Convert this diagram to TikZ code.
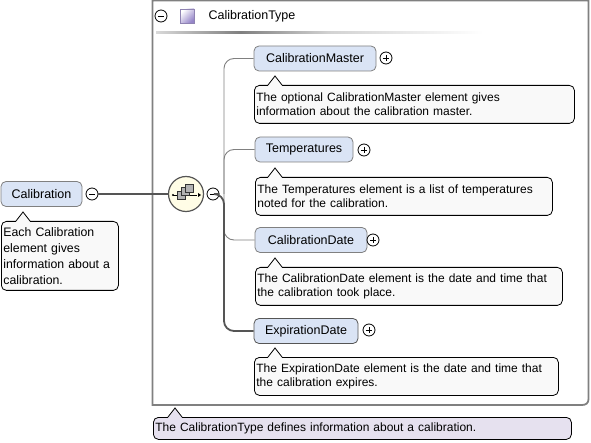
\documentclass[tikz,border=0pt]{standalone}
\usepackage{fontspec}
\setmainfont{Liberation Sans}
\usetikzlibrary{calc}
\definecolor{elemblue}{HTML}{DAE4F5}
\definecolor{tipfill}{HTML}{F9F9F9}
\definecolor{lavender}{HTML}{E6E1EF}
\definecolor{framegray}{HTML}{808080}
\definecolor{darkline}{HTML}{555555}
\definecolor{seqfill}{HTML}{FFFDE6}
\definecolor{purplesq}{HTML}{9585C8}
\newcommand\tipnotch[3]{% node, x offset, fill color
  \fill[#3] ($(#1.north west)+(#2-7,0.8)$) -- ($(#1.north west)+(#2,-9)$) -- ($(#1.north west)+(#2+7,0.8)$) -- cycle;
  \draw[black,line width=0.8pt] ($(#1.north west)+(#2-7,0)$) -- ($(#1.north west)+(#2,-9)$) -- ($(#1.north west)+(#2+7,0)$);}
\newcommand\minussign[1]{\draw[line width=0.8pt] ($(#1.center)+(-3.2,0)$) -- ($(#1.center)+(3.2,0)$);}
\newcommand\plussign[1]{\draw[line width=0.8pt] ($(#1.center)+(-3.2,0)$) -- ($(#1.center)+(3.2,0)$) ($(#1.center)+(0,-3.2)$) -- ($(#1.center)+(0,3.2)$);}
\begin{document}
\begin{tikzpicture}[x=1pt,y=-1pt,
  elem/.style={draw=framegray, line width=0.8pt, fill=elemblue, rounded corners=5pt, minimum height=25pt, inner sep=0pt, font=\fontsize{12.5}{14}\selectfont},
  reqelem/.style={elem, draw=darkline},
  tip/.style={draw=black, line width=0.8pt, fill=tipfill, rounded corners=5pt, align=left, anchor=north west, inner xsep=2pt, inner ysep=2pt, minimum height=38pt, font=\fontsize{12}{14}\selectfont},
  btn/.style={circle, draw=black, line width=0.8pt, fill=white, minimum size=12pt, inner sep=0pt},
  thin/.style={draw=framegray, line width=0.9pt, rounded corners=10pt},
  thick/.style={draw=darkline, line width=1.8pt, rounded corners=10pt}]
\useasboundingbox (0,0) rectangle (591,443);
% frame
\draw[framegray, line width=1.8pt] (152.5,0.5) -- (152.5,405) -- (582,405) .. controls (586,405) and (588.5,403) .. (588.5,399) -- (588.5,0.5) -- cycle;
% header
\node[btn] (hdrbtn) at (161,16) {}; \minussign{hdrbtn}
\shade[left color=white, right color=purplesq, shading angle=45] (180,9) rectangle (194,23);
\draw[purplesq!70!gray, line width=0.6pt] (180,9) rectangle (194,23);
\node[anchor=west, font=\fontsize{12.5}{14}\selectfont] (ctype) at (205,16) {CalibrationType};
\shade[left color=gray!30, right color=gray] (156,31.5) rectangle (240,33.5);
\shade[left color=gray, right color=gray!35] (240,31.5) rectangle (330,33.5);
\shade[left color=gray!35, right color=white] (330,31.5) rectangle (483,33.5);
% root element
\node[elem, minimum width=81pt] (cal) at (41.5,194) {Calibration};
\node[btn] (calbtn) at (92,194) {}; \minussign{calbtn}
\node[tip, text width=113pt, minimum height=69pt, font=\fontsize{12.3}{16}\selectfont] (caltip) at (1,221) {Each Calibration\\element gives\\information about a\\calibration.};
\tipnotch{caltip}{22}{tipfill}
% sequence
\node[circle, draw=darkline, line width=1.2pt, fill=seqfill, minimum size=35pt, inner sep=0pt] (seq) at (186,194) {};
\draw[darkline, line width=1.8pt] (calbtn) -- (seq);
\draw[black, line width=0.8pt] (173,195) -- (197,195);
\fill[black] (173,195) circle (1.2);
\fill[black] (198,193) -- (198,197) -- (201,195) -- cycle;
\foreach \dx/\dy in {0/0,4/-3.5,8/-7}{
  \filldraw[fill=gray!60, draw=black!80, line width=0.6pt] (177+\dx,191+\dy) rectangle (185+\dx,199+\dy);}
\node[btn] (seqbtn) at (213,194) {}; \minussign{seqbtn}
% children
\node[elem, minimum width=122pt] (cm) at (315,58.5) {CalibrationMaster};
\node[btn] (cmbtn) at (386,58) {}; \plussign{cmbtn}
\node[tip, text width=316pt] (cmtip) at (254,85) {The optional CalibrationMaster element gives\\information about the calibration master.};
\tipnotch{cmtip}{21}{tipfill}

\node[elem, minimum width=98pt] (tp) at (304,149.5) {Temperatures};
\node[btn] (tpbtn) at (364,150) {}; \plussign{tpbtn}
\node[tip, text width=293pt] (tptip) at (255,177) {The Temperatures element is a list of temperatures\\noted for the calibration.};
\tipnotch{tptip}{20}{tipfill}

\node[elem, minimum width=112pt] (cd) at (311,240) {CalibrationDate};
\node[btn] (cdbtn) at (373,240) {}; \plussign{cdbtn}
\node[tip, text width=303pt] (cdtip) at (255,267) {The CalibrationDate element is the date and time that\\the calibration took place.};
\tipnotch{cdtip}{20}{tipfill}

\node[reqelem, minimum width=104pt] (ed) at (306,331) {ExpirationDate};
\node[btn] (edbtn) at (369,330) {}; \plussign{edbtn}
\node[tip, text width=300pt] (edtip) at (254,357) {The ExpirationDate element is the date and time that\\the calibration expires.};
\tipnotch{edtip}{21}{tipfill}
% connectors
\coordinate (bus) at (224,194);
\draw[thin] (bus) |- (cm.west);
\draw[thin] (bus) |- (tp.west);
\draw[thin] (bus) |- (cd.west);
\draw[thick] (seqbtn.east) -- (bus) |- (ed.west);
% bottom annotation
\node[tip, fill=lavender, text width=414pt, minimum height=22pt] (typetip) at (153,417) {The CalibrationType defines information about a calibration.};
\tipnotch{typetip}{22}{lavender}
\end{tikzpicture}
\end{document}
